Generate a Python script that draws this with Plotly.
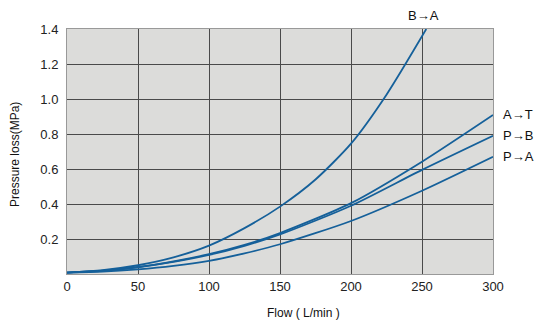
import plotly.graph_objects as go

flow_ba = [0, 25, 50, 75, 100, 125, 150, 175, 200, 225, 253]
loss_ba = [0.008, 0.022, 0.05, 0.095, 0.162, 0.262, 0.385, 0.54, 0.745, 1.025, 1.40]

flow = [0, 25, 50, 75, 100, 125, 150, 200, 250, 300]
loss_at = [0.008, 0.019, 0.04, 0.072, 0.113, 0.166, 0.234, 0.405, 0.642, 0.909]
loss_pb = [0.008, 0.018, 0.038, 0.069, 0.109, 0.161, 0.226, 0.39, 0.595, 0.79]
loss_pa = [0.008, 0.013, 0.026, 0.046, 0.075, 0.118, 0.17, 0.303, 0.476, 0.67]

labels = ["B→A", "A→T", "P→B", "P→A"]
yticks = [0.2, 0.4, 0.6, 0.8, 1.0, 1.2, 1.4]
xticks = [0, 50, 100, 150, 200, 250, 300]

color = "#15609a"
fig = go.Figure()
for xs, ys in [(flow_ba, loss_ba), (flow, loss_at), (flow, loss_pb), (flow, loss_pa)]:
    fig.add_trace(go.Scatter(x=xs, y=ys, mode="lines",
                             line=dict(color=color, width=1.8, shape="spline", smoothing=0.7),
                             showlegend=False, hoverinfo="skip"))

font = dict(family="Liberation Sans, Arial, sans-serif", size=13, color="#222")
fig.update_layout(
    width=541, height=332,
    margin=dict(l=67, r=48, t=29, b=58),
    paper_bgcolor="white", plot_bgcolor="#dcdcda",
    font=font,
    xaxis=dict(range=[0, 300], tickvals=xticks, ticktext=[str(v) for v in xticks],
               showgrid=True, gridcolor="#4a4a4a", gridwidth=1, zeroline=False,
               showline=True, linecolor="#999", mirror=True, ticks="", ticklen=0,
               tickfont=dict(size=13), fixedrange=True),
    yaxis=dict(range=[0, 1.4], tickvals=yticks, ticktext=["%.1f" % v for v in yticks],
               showgrid=True, gridcolor="#4a4a4a", gridwidth=1, zeroline=False,
               showline=True, linecolor="#999", mirror=True, ticks="outside", ticklen=5, tickcolor="white",
               tickfont=dict(size=13), fixedrange=True),
)

ann = [
    dict(x=251, y=1.4, text=labels[0], xanchor="center", yanchor="bottom", yshift=4),
    dict(x=300, y=0.909, text=labels[1], xanchor="left", xshift=8),
    dict(x=300, y=0.79, text=labels[2], xanchor="left", xshift=8),
    dict(x=300, y=0.67, text=labels[3], xanchor="left", xshift=8),
]
for a in ann:
    fig.add_annotation(showarrow=False, xref="x", yref="y", font=dict(size=13, color="#111"), **a)

fig.add_annotation(text="Flow ( L/min )", xref="paper", yref="paper", x=(303 - 67) / 426, y=-(313 - 274) / 245,
                   xanchor="center", yanchor="middle", showarrow=False, font=dict(size=12, color="#111"))
fig.add_annotation(text="Pressure loss(MPa)", xref="paper", yref="paper", x=-(67 - 15) / 426, y=(274 - 155) / 245,
                   xanchor="center", yanchor="middle", textangle=-90, showarrow=False, font=dict(size=12, color="#111"))

fig.write_html("out.html")
